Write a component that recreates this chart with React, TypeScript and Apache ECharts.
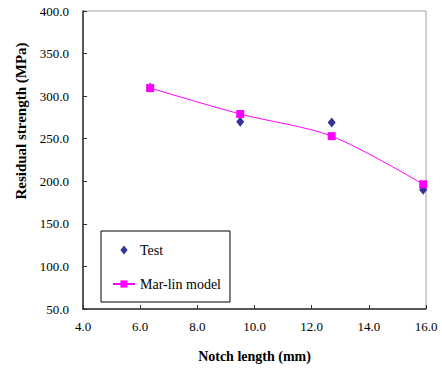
import React, { useEffect, useRef } from "react";
import * as echarts from "echarts";

const notchTest = [6.35, 9.5, 12.7, 15.9];
const testValues = [310, 270, 269, 190];
const notchModel = [6.35, 9.5, 12.7, 15.9];
const modelValues = [309.5, 279, 253, 196.5];
const seriesNames = ["Test", "Mar-lin model"];

const FONT = "'Liberation Serif', 'Times New Roman', serif";

export default function App() {
  const ref = useRef<HTMLDivElement>(null);
  useEffect(() => {
    if (!ref.current) return;
    const chart = echarts.init(ref.current, undefined, { renderer: "svg" });
    chart.setOption({
      animation: false,
      backgroundColor: "#fff",
      textStyle: { fontFamily: FONT },
      grid: {
        left: 83,
        top: 11,
        right: 16,
        bottom: 60,
        show: true,
        borderColor: "#a0a0a0",
        borderWidth: 1,
      },
      legend: {
        left: 101,
        top: 231,
        orient: "vertical",
        borderColor: "#000",
        borderWidth: 1,
        padding: [12, 9, 11, 11],
        itemWidth: 22,
        itemHeight: 9,
        itemGap: 20,
        symbolKeepAspect: true,
        textStyle: { fontFamily: FONT, fontSize: 14, color: "#000" },
        data: [
          { name: seriesNames[0], icon: "path://M4,0L8,5L4,10L0,5Z" },
          { name: seriesNames[1] },
        ],
      },
      xAxis: {
        type: "value",
        min: 4,
        max: 16,
        interval: 2,
        name: "Notch length (mm)",
        nameLocation: "middle",
        nameGap: 40,
        nameTextStyle: { fontFamily: FONT, fontSize: 14, fontWeight: "bold", color: "#000" },
        axisLine: { show: true, lineStyle: { color: "#303030", width: 1.5 } },
        axisTick: { show: true, inside: true, length: 4, lineStyle: { color: "#303030" } },
        axisLabel: {
          fontFamily: FONT,
          fontSize: 13,
          color: "#000",
          margin: 11,
          formatter: (v: number) => v.toFixed(1),
        },
        splitLine: { show: false },
      },
      yAxis: {
        type: "value",
        min: 50,
        max: 400,
        interval: 50,
        axisLine: { show: true, lineStyle: { color: "#303030", width: 1.5 } },
        axisTick: { show: true, inside: true, length: 4, lineStyle: { color: "#303030" } },
        axisLabel: {
          fontFamily: FONT,
          fontSize: 13,
          color: "#000",
          margin: 14,
          formatter: (v: number) => v.toFixed(1),
        },
        splitLine: { show: false },
      },
      graphic: [
        {
          type: "text",
          x: 21,
          y: 121,
          rotation: Math.PI / 2,
          style: {
            text: "Residual strength (MPa)",
            fontFamily: FONT,
            fontSize: 15,
            fontWeight: "bold",
            fill: "#000",
            align: "center",
            verticalAlign: "middle",
          },
        },
      ],
      series: [
        {
          name: seriesNames[0],
          type: "scatter",
          symbol: "diamond",
          symbolSize: [8, 10],
          itemStyle: { color: "#000080" },
          data: notchTest.map((x, i) => [x, testValues[i]]),
          z: 2,
        },
        {
          name: seriesNames[1],
          type: "line",
          smooth: 0.3,
          symbol: "rect",
          symbolSize: 8,
          itemStyle: { color: "#ff00ff" },
          lineStyle: { color: "#ff00ff", width: 1 },
          data: notchModel.map((x, i) => [x, modelValues[i]]),
          z: 3,
        },
      ],
    });
    return () => chart.dispose();
  }, []);
  return (
    <div
      ref={ref}
      style={{ position: "absolute", left: 0, top: 0, width: 442, height: 369 }}
    />
  );
}
